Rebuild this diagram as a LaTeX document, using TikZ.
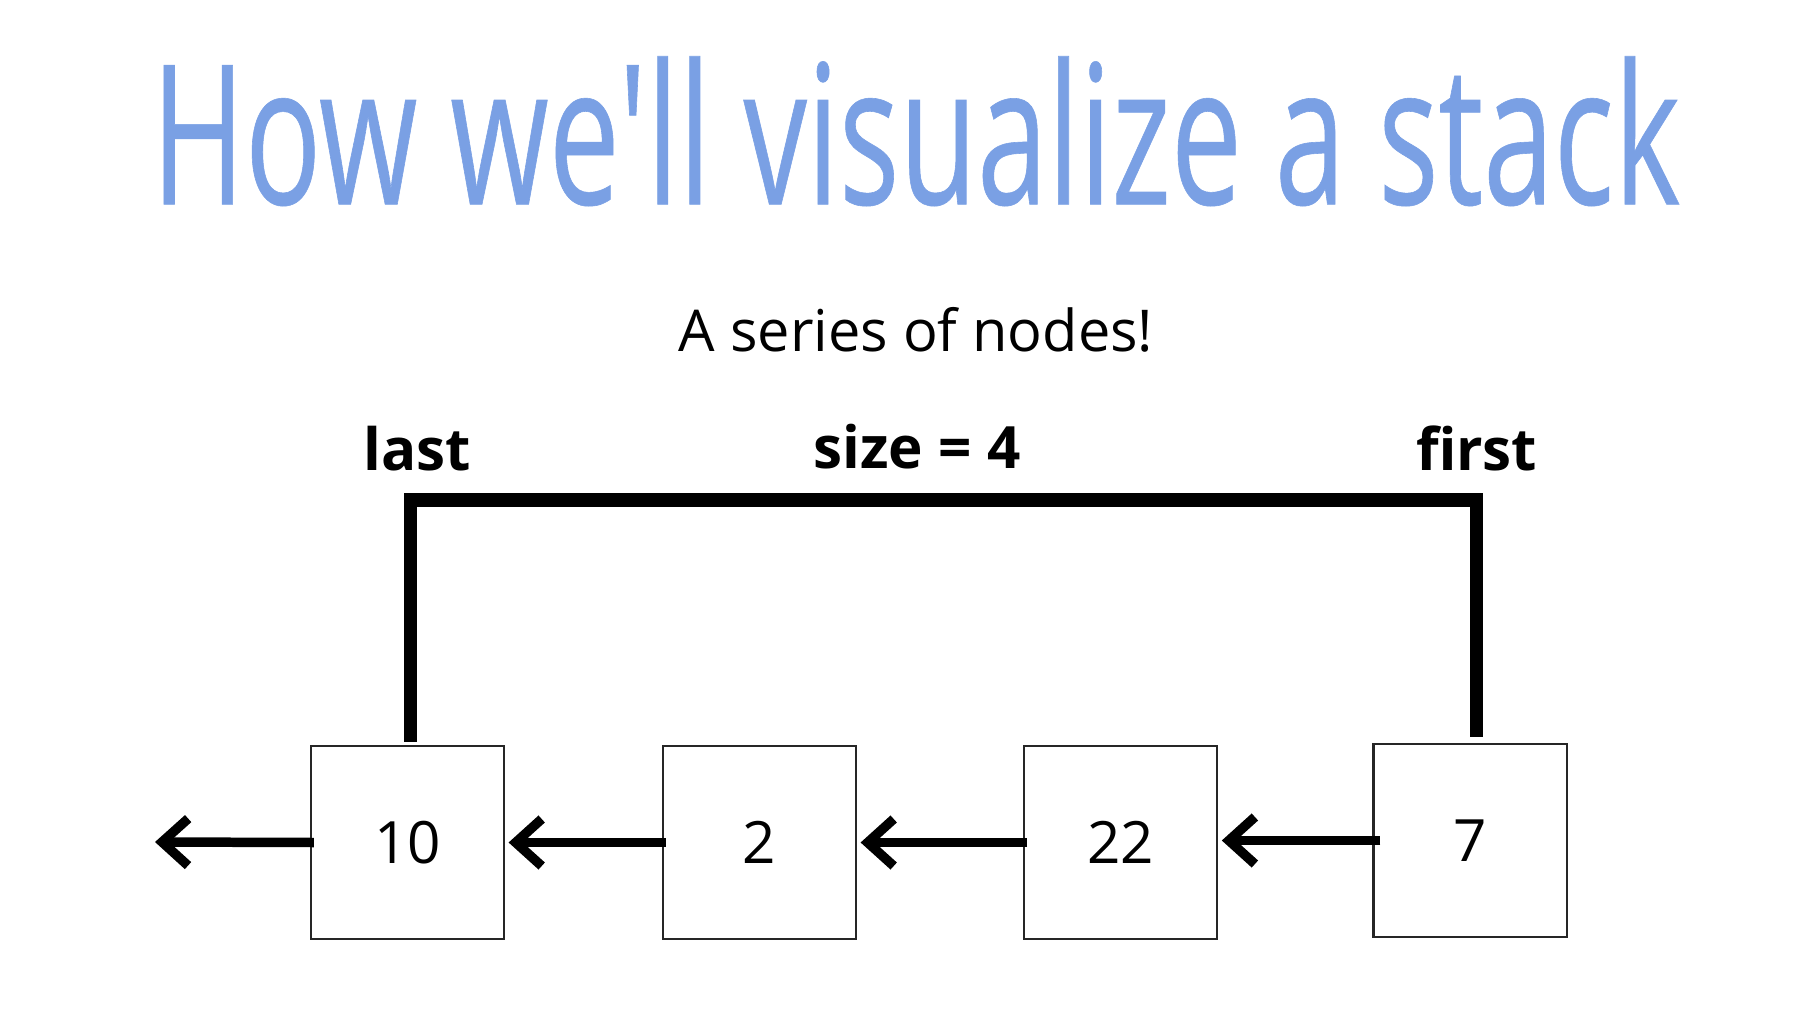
\documentclass[tikz,border=0pt]{standalone}
\usepackage{fontspec}
\setmainfont{Open Sans}
\newfontfamily\titlefont[FakeStretch=0.65,FakeBold=0.3,Ligatures=TeXOff]{Open Sans}
\usepackage{xcolor}
\usetikzlibrary{positioning,calc,arrows.meta}
\definecolor{titleblue}{RGB}{122,160,228}

\begin{document}
\begin{tikzpicture}[x=0.01cm,y=-0.01cm,
                stack node/.style={rectangle,draw=black!85,line width=0.6pt,minimum width=1.93cm,
                minimum height=1.93cm,inner sep=0pt,font=\fontsize{16.6}{20}\selectfont},
                link/.style={->,>={Straight Barb[length=0.26cm,width=0.47cm]},line width=2.7pt},
                pointer/.style={line width=3.8pt},
                label text/.style={anchor=base,font=\fontsize{16.6}{20}\selectfont\bfseries}]
\useasboundingbox (0,0) rectangle (1814,1036);
%Text
    \node[anchor=base,text=titleblue,font=\titlefont\fontsize{55.4}{60}\selectfont] (title) at (916,204.3) {How we'll visualize a stack};
    \node[anchor=base,font=\fontsize{16.4}{20}\selectfont] (subtitle) at (916,351.7) {A series of nodes!};
    \node[label text] (lastlbl) at (417,470) {last};
    \node[label text] (sizelbl) at (917,468) {size = 4};
    \node[label text] (firstlbl) at (1476.7,470) {first};
%Nodes
    \node[stack node] (n10) at (407.5,842.5) {10};
    \node[stack node] (n2) at (759.5,842.5) {2};
    \node[stack node] (n22) at (1120.7,842.5) {22};
    \node[stack node] (n7) at (1470,840.5) {7};
    \coordinate (nil) at (155,842);
    \coordinate (bar) at (0,500);
%Lines
    \draw[pointer] ([xshift=0.032cm,yshift=0.033cm]n10.north) |- ([xshift=0.067cm]n7.north |- bar)
        -- ([xshift=0.067cm,yshift=0.057cm]n7.north);
    \draw[link] ([xshift=0.04cm]n10.west) -- (nil);
    \draw[link] ([xshift=0.04cm]n2.west) -- ([xshift=0.035cm]n10.east);
    \draw[link] ([xshift=0.04cm]n22.west) -- ([xshift=0.035cm]n2.east);
    \draw[link] ([xshift=0.08cm]n7.west) -- ([xshift=0.035cm]n22.east |- n7.west);
\end{tikzpicture}
\end{document}
